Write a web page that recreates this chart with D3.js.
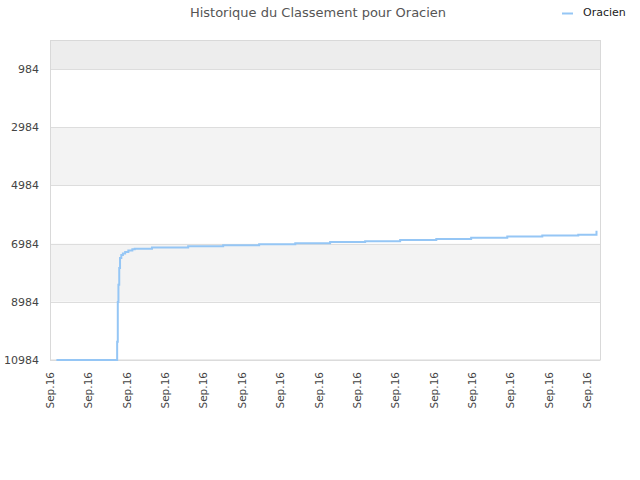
<!DOCTYPE html>
<html>
<head>
<meta charset="utf-8">
<script src="https://cdn.jsdelivr.net/npm/d3@7"></script>
<style>
  body { margin: 0; background: #fff; }
  svg { font-family: "DejaVu Sans", sans-serif; }
</style>
</head>
<body>
<svg id="chart" width="640" height="480"></svg>
<script>
// Rank history for Oracien (hours after start, rank)
const startDate = new Date(2016, 8, 1, 0, 0);
const hours = [4, 42, 42.4, 42.8, 43.3, 43.8, 44.6, 45.6, 47, 49, 51.5, 53, 63.8, 86.4, 108.3,
    130.8, 153.4, 175.2, 197.1, 219, 241.6, 263.4, 286, 307.9, 330.4, 341.8];
const ranks = [10980, 10360, 8990, 8400, 7820, 7480, 7375, 7320, 7270, 7220, 7180, 7160, 7120, 7075, 7040,
    7005, 6970, 6930, 6900, 6860, 6825, 6780, 6735, 6700, 6680, 6540];
const yTicks = [984, 2984, 4984, 6984, 8984, 10984];
const tickDays = d3.range(0, 15);

const title = "Historique du Classement pour Oracien";
const seriesName = "Oracien";

const svg = d3.select("#chart");
const margin = { top: 40, right: 40, bottom: 120, left: 50 };
const width = 640 - margin.left - margin.right;
const height = 480 - margin.top - margin.bottom;

const data = hours.map((h, i) => ({ date: new Date(+startDate + h * 3600e3), rank: ranks[i] }));

const x = d3.scaleTime()
    .domain([startDate, new Date(+startDate + 14.333 * 24 * 3600e3)])
    .range([0, width]);
const y = d3.scaleLinear().domain([-16, 10984]).range([0, height]);

const g = svg.append("g").attr("transform", `translate(${margin.left},${margin.top})`);

// alternating bands, top one a bit darker
const bandEdges = [-16].concat(yTicks);
for (let i = 0; i < bandEdges.length - 1; i++) {
    const fromBottom = bandEdges.length - 2 - i;
    g.append("rect")
        .attr("x", 0).attr("width", width)
        .attr("y", y(bandEdges[i]))
        .attr("height", y(bandEdges[i + 1]) - y(bandEdges[i]))
        .attr("fill", i === 0 ? "#ededed" : (fromBottom % 2 === 1 ? "#f3f3f3" : "#ffffff"));
}

// grid lines
g.selectAll(".grid").data(yTicks).enter().append("line")
    .attr("x1", 0).attr("x2", width)
    .attr("y1", d => Math.round(y(d)) + 0.5).attr("y2", d => Math.round(y(d)) + 0.5)
    .attr("stroke", "#dddddd");

// frame
g.append("rect").attr("x", 0.5).attr("y", 0.5).attr("width", width).attr("height", height - 0.5)
    .attr("fill", "none").attr("stroke", "#d9d9d9");

// y labels
g.selectAll(".ylab").data(yTicks).enter().append("text")
    .attr("x", -11).attr("y", d => y(d) + 4)
    .attr("text-anchor", "end").attr("font-size", 11).attr("fill", "#444")
    .text(d => d);

// x labels
const fmt = d3.timeFormat("%b.%y");
g.selectAll(".xlab").data(tickDays).enter().append("text")
    .attr("transform", d => `translate(${x(d3.timeDay.offset(startDate, d)) + 4},${height + 12}) rotate(-90)`)
    .attr("text-anchor", "end").attr("font-size", 10.5).attr("fill", "#444")
    .text(d => fmt(d3.timeDay.offset(startDate, d)));

// line
const line = d3.line()
    .x(d => x(d.date))
    .y(d => y(d.rank))
    .curve(d3.curveStepAfter);
g.append("path").datum(data)
    .attr("d", line)
    .attr("fill", "none").attr("stroke", "#95c6f5").attr("stroke-width", 2);

// title
svg.append("text").attr("x", 318).attr("y", 17)
    .attr("text-anchor", "middle").attr("font-size", 13).attr("fill", "#555")
    .text(title);

// legend
svg.append("line").attr("x1", 562).attr("x2", 573).attr("y1", 13.5).attr("y2", 13.5)
    .attr("stroke", "#95c6f5").attr("stroke-width", 2);
svg.append("text").attr("x", 583).attr("y", 16)
    .attr("font-size", 11).attr("fill", "#222").text(seriesName);
</script>
</body>
</html>
